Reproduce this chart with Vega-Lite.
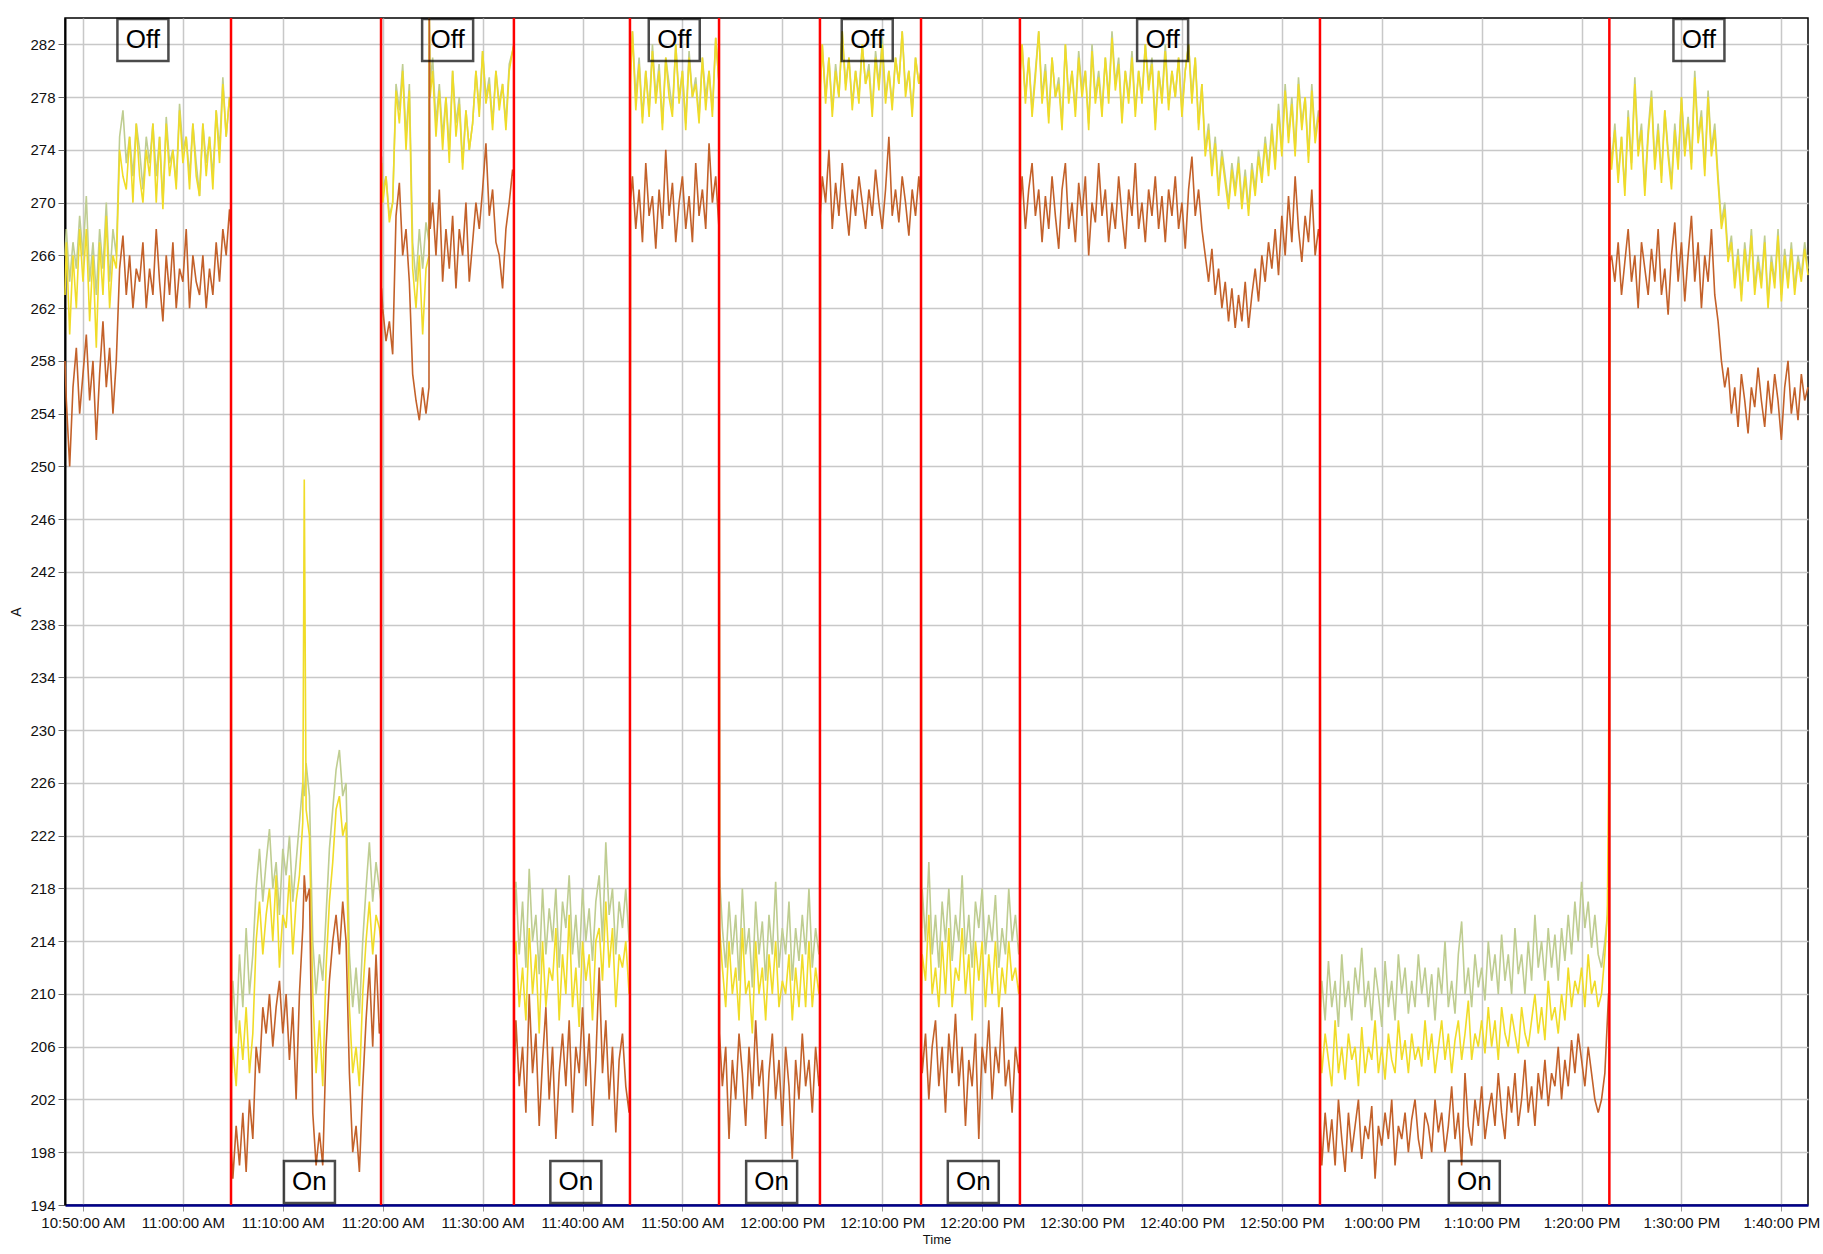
{
"$schema":"https://vega.github.io/schema/vega-lite/v6.json",
"width":1743,"height":1187,
"autosize":{"type":"none"},
"padding":{"left":65,"top":18,"right":15,"bottom":49},
"config":{"font":"Liberation Sans","view":{"stroke":"#000","strokeWidth":1.5}},
"datasets":{
"s":[
{"t":"2000-01-01T10:48:12","g":266,"y":263,"o":258},{"t":"2000-01-01T10:48:20","g":268,"y":267,"o":255},{"t":"2000-01-01T10:48:40","g":264,"y":260,"o":250},{"t":"2000-01-01T10:49:00","g":267,"y":266,"o":256},{"t":"2000-01-01T10:49:20","g":265,"y":262,"o":259},{"t":"2000-01-01T10:49:40","g":269,"y":268,"o":254},{"t":"2000-01-01T10:50:00","g":266,"y":264,"o":257},{"t":"2000-01-01T10:50:20","g":270.5,"y":268,"o":260},{"t":"2000-01-01T10:50:40","g":264,"y":261,"o":255},{"t":"2000-01-01T10:51:00","g":267,"y":266,"o":258},{"t":"2000-01-01T10:51:20","g":263,"y":259,"o":252},{"t":"2000-01-01T10:51:40","g":268,"y":267,"o":257},{"t":"2000-01-01T10:52:00","g":265,"y":263,"o":261},{"t":"2000-01-01T10:52:20","g":270,"y":269,"o":256},{"t":"2000-01-01T10:52:40","g":264,"y":262,"o":259},{"t":"2000-01-01T10:53:00","g":268,"y":266,"o":254},{"t":"2000-01-01T10:53:20","g":266,"y":265,"o":258},
{"t":"2000-01-01T10:53:40","g":275,"y":274,"o":265},{"t":"2000-01-01T10:54:00","g":277,"y":272,"o":267.5},{"t":"2000-01-01T10:54:20","g":273,"y":271,"o":263},{"t":"2000-01-01T10:54:40","g":275,"y":275,"o":266},{"t":"2000-01-01T10:55:00","g":272,"y":270,"o":262},{"t":"2000-01-01T10:55:20","g":276,"y":276,"o":265},{"t":"2000-01-01T10:55:40","g":274,"y":272,"o":264},{"t":"2000-01-01T10:56:00","g":271,"y":270,"o":267},{"t":"2000-01-01T10:56:20","g":275,"y":274,"o":262},{"t":"2000-01-01T10:56:40","g":273,"y":272,"o":265},{"t":"2000-01-01T10:57:00","g":276,"y":276,"o":263},{"t":"2000-01-01T10:57:20","g":272,"y":270,"o":268},{"t":"2000-01-01T10:57:40","g":275,"y":275,"o":264},{"t":"2000-01-01T10:58:00","g":270,"y":269.5,"o":261},{"t":"2000-01-01T10:58:20","g":276.5,"y":276,"o":266},{"t":"2000-01-01T10:58:40","g":273,"y":272,"o":263},{"t":"2000-01-01T10:59:00","g":274,"y":274,"o":267},{"t":"2000-01-01T10:59:20","g":271.5,"y":271,"o":262},{"t":"2000-01-01T10:59:40","g":277.5,"y":277,"o":265},{"t":"2000-01-01T11:00:00","g":274,"y":273,"o":264},{"t":"2000-01-01T11:00:20","g":275,"y":275,"o":268},{"t":"2000-01-01T11:00:40","g":272,"y":271,"o":262},{"t":"2000-01-01T11:01:00","g":276,"y":276,"o":266},{"t":"2000-01-01T11:01:20","g":273,"y":272,"o":264},{"t":"2000-01-01T11:01:40","g":270.5,"y":270.5,"o":263},{"t":"2000-01-01T11:02:00","g":276,"y":276,"o":266},{"t":"2000-01-01T11:02:20","g":273,"y":272,"o":262},{"t":"2000-01-01T11:02:40","g":275,"y":275,"o":265},{"t":"2000-01-01T11:03:00","g":272,"y":271,"o":263},{"t":"2000-01-01T11:03:20","g":277,"y":277,"o":267},{"t":"2000-01-01T11:03:40","g":274,"y":273,"o":264},{"t":"2000-01-01T11:04:00","g":279.5,"y":279,"o":268},{"t":"2000-01-01T11:04:20","g":275,"y":275,"o":266},{"t":"2000-01-01T11:04:40","g":278,"y":278,"o":269.5},{"t":"2000-01-01T11:04:49","g":277,"y":277,"o":268},
{"t":"2000-01-01T11:04:52","g":208,"y":204,"o":198},{"t":"2000-01-01T11:05:00","g":211,"y":206,"o":196},{"t":"2000-01-01T11:05:20","g":207,"y":203,"o":200},{"t":"2000-01-01T11:05:40","g":213,"y":208,"o":197},{"t":"2000-01-01T11:06:00","g":209,"y":205,"o":201},{"t":"2000-01-01T11:06:20","g":215,"y":209,"o":196.5},{"t":"2000-01-01T11:06:40","g":210,"y":204,"o":202},{"t":"2000-01-01T11:07:00","g":213,"y":207,"o":199},{"t":"2000-01-01T11:07:20","g":218,"y":214,"o":206},{"t":"2000-01-01T11:07:40","g":221,"y":217,"o":204},{"t":"2000-01-01T11:08:00","g":217,"y":213,"o":209},{"t":"2000-01-01T11:08:20","g":220,"y":216,"o":207},{"t":"2000-01-01T11:08:40","g":222.5,"y":218,"o":210},{"t":"2000-01-01T11:09:00","g":218,"y":214,"o":206},{"t":"2000-01-01T11:09:20","g":220,"y":219,"o":209},{"t":"2000-01-01T11:09:40","g":216,"y":212,"o":211},{"t":"2000-01-01T11:10:00","g":221,"y":216,"o":207},{"t":"2000-01-01T11:10:20","g":219,"y":215,"o":210},{"t":"2000-01-01T11:10:40","g":222,"y":219,"o":205},{"t":"2000-01-01T11:11:00","g":217,"y":213,"o":209},{"t":"2000-01-01T11:11:20","g":220,"y":217,"o":202},{"t":"2000-01-01T11:11:40","g":223,"y":219,"o":210},{"t":"2000-01-01T11:12:00","g":226,"y":223,"o":215},{"t":"2000-01-01T11:12:09","g":225,"y":249,"o":219},{"t":"2000-01-01T11:12:20","g":227.5,"y":224,"o":217},{"t":"2000-01-01T11:12:40","g":225,"y":222,"o":218},{"t":"2000-01-01T11:13:00","g":214,"y":210,"o":201},{"t":"2000-01-01T11:13:20","g":210,"y":204,"o":197},{"t":"2000-01-01T11:13:40","g":213,"y":208,"o":199.5},{"t":"2000-01-01T11:14:00","g":211,"y":203,"o":197},{"t":"2000-01-01T11:14:20","g":216,"y":212,"o":206},{"t":"2000-01-01T11:14:40","g":221,"y":217,"o":211},{"t":"2000-01-01T11:15:00","g":224,"y":220,"o":214},{"t":"2000-01-01T11:15:20","g":227,"y":224,"o":216},{"t":"2000-01-01T11:15:40","g":228.5,"y":225,"o":213},{"t":"2000-01-01T11:16:00","g":225,"y":222,"o":217},{"t":"2000-01-01T11:16:20","g":226,"y":223,"o":214},{"t":"2000-01-01T11:16:40","g":213,"y":209,"o":204},{"t":"2000-01-01T11:17:00","g":209,"y":204,"o":198},{"t":"2000-01-01T11:17:20","g":212,"y":206,"o":200},{"t":"2000-01-01T11:17:40","g":208.5,"y":203,"o":196.5},{"t":"2000-01-01T11:18:00","g":214,"y":210,"o":203},{"t":"2000-01-01T11:18:20","g":218,"y":214,"o":208},{"t":"2000-01-01T11:18:40","g":221.5,"y":217,"o":212},{"t":"2000-01-01T11:19:00","g":217,"y":213,"o":206},{"t":"2000-01-01T11:19:20","g":220,"y":216,"o":213},{"t":"2000-01-01T11:19:40","g":218,"y":215,"o":207},{"t":"2000-01-01T11:19:50","g":217,"y":214,"o":208},
{"t":"2000-01-01T11:19:53","g":273.5,"y":273,"o":263.5},{"t":"2000-01-01T11:20:00","g":271,"y":270,"o":262},{"t":"2000-01-01T11:20:20","g":272,"y":272,"o":259.5},{"t":"2000-01-01T11:20:40","g":269,"y":268.5,"o":261},{"t":"2000-01-01T11:21:00","g":270,"y":270,"o":258.5},{"t":"2000-01-01T11:21:20","g":279,"y":278.5,"o":269},{"t":"2000-01-01T11:21:40","g":277,"y":276,"o":271.5},{"t":"2000-01-01T11:22:00","g":280.5,"y":280,"o":266},{"t":"2000-01-01T11:22:20","g":275,"y":274,"o":268},{"t":"2000-01-01T11:22:40","g":279,"y":278.5,"o":264},{"t":"2000-01-01T11:23:00","g":267,"y":265,"o":257},{"t":"2000-01-01T11:23:20","g":264,"y":262,"o":255},{"t":"2000-01-01T11:23:40","g":268,"y":266,"o":253.5},{"t":"2000-01-01T11:24:00","g":265,"y":260,"o":256},{"t":"2000-01-01T11:24:20","g":268.5,"y":265,"o":254},{"t":"2000-01-01T11:24:38","g":267,"y":266,"o":256},{"t":"2000-01-01T11:24:40","g":284,"y":284,"o":284},{"t":"2000-01-01T11:24:45","g":279,"y":278,"o":268},{"t":"2000-01-01T11:25:00","g":281,"y":280,"o":270},{"t":"2000-01-01T11:25:20","g":276,"y":275,"o":266},{"t":"2000-01-01T11:25:40","g":279,"y":278.5,"o":271},{"t":"2000-01-01T11:26:00","g":275,"y":274,"o":264},{"t":"2000-01-01T11:26:20","g":278,"y":278,"o":268},{"t":"2000-01-01T11:26:40","g":274,"y":273,"o":265},{"t":"2000-01-01T11:27:00","g":280,"y":280,"o":269},{"t":"2000-01-01T11:27:20","g":276,"y":275,"o":263.5},{"t":"2000-01-01T11:27:40","g":278,"y":277.5,"o":268},{"t":"2000-01-01T11:28:00","g":273,"y":272.5,"o":266},{"t":"2000-01-01T11:28:20","g":277,"y":277,"o":270},{"t":"2000-01-01T11:28:40","g":274,"y":274,"o":264},{"t":"2000-01-01T11:29:00","g":276,"y":276,"o":267},{"t":"2000-01-01T11:29:20","g":280,"y":280,"o":270},{"t":"2000-01-01T11:29:40","g":277,"y":276.5,"o":268},{"t":"2000-01-01T11:30:00","g":281.5,"y":281.5,"o":271},{"t":"2000-01-01T11:30:20","g":278,"y":277.5,"o":274.5},{"t":"2000-01-01T11:30:40","g":279.5,"y":279,"o":269},{"t":"2000-01-01T11:31:00","g":276,"y":275.5,"o":271},{"t":"2000-01-01T11:31:20","g":280,"y":280,"o":267},{"t":"2000-01-01T11:31:40","g":277.5,"y":277,"o":266},{"t":"2000-01-01T11:32:00","g":279,"y":279,"o":263.5},{"t":"2000-01-01T11:32:20","g":276,"y":275.5,"o":268},{"t":"2000-01-01T11:32:40","g":280.5,"y":280,"o":270},{"t":"2000-01-01T11:33:00","g":281.5,"y":281.5,"o":272.5},{"t":"2000-01-01T11:33:08","g":282,"y":282,"o":272},
{"t":"2000-01-01T11:33:11","g":216,"y":213,"o":204},{"t":"2000-01-01T11:33:20","g":218.5,"y":214,"o":208},{"t":"2000-01-01T11:33:40","g":213,"y":209,"o":203},{"t":"2000-01-01T11:34:00","g":217,"y":212,"o":206},{"t":"2000-01-01T11:34:20","g":212,"y":208,"o":201},{"t":"2000-01-01T11:34:40","g":219.5,"y":215,"o":210},{"t":"2000-01-01T11:35:00","g":214,"y":210,"o":204},{"t":"2000-01-01T11:35:20","g":216,"y":213,"o":207},{"t":"2000-01-01T11:35:40","g":211.5,"y":207,"o":200},{"t":"2000-01-01T11:36:00","g":218,"y":214,"o":205},{"t":"2000-01-01T11:36:20","g":213,"y":209,"o":209},{"t":"2000-01-01T11:36:40","g":216.5,"y":212,"o":202},{"t":"2000-01-01T11:37:00","g":214,"y":211,"o":206},{"t":"2000-01-01T11:37:20","g":218,"y":215,"o":199},{"t":"2000-01-01T11:37:40","g":212,"y":208,"o":204},{"t":"2000-01-01T11:38:00","g":217,"y":213,"o":207},{"t":"2000-01-01T11:38:20","g":215,"y":210,"o":203},{"t":"2000-01-01T11:38:40","g":219,"y":216,"o":208},{"t":"2000-01-01T11:39:00","g":213,"y":209,"o":201},{"t":"2000-01-01T11:39:20","g":216,"y":212,"o":206},{"t":"2000-01-01T11:39:40","g":212,"y":207.5,"o":204},{"t":"2000-01-01T11:40:00","g":218,"y":214,"o":209},{"t":"2000-01-01T11:40:20","g":214,"y":211,"o":203},{"t":"2000-01-01T11:40:40","g":216.5,"y":213,"o":207},{"t":"2000-01-01T11:41:00","g":212.5,"y":208,"o":200},{"t":"2000-01-01T11:41:20","g":217,"y":214,"o":205},{"t":"2000-01-01T11:41:40","g":219,"y":215,"o":212},{"t":"2000-01-01T11:42:00","g":214,"y":211,"o":204},{"t":"2000-01-01T11:42:20","g":221.5,"y":217,"o":208},{"t":"2000-01-01T11:42:40","g":216,"y":212,"o":202},{"t":"2000-01-01T11:43:00","g":218,"y":215,"o":206},{"t":"2000-01-01T11:43:20","g":213,"y":209,"o":199.5},{"t":"2000-01-01T11:43:40","g":217,"y":213,"o":205},{"t":"2000-01-01T11:44:00","g":215,"y":212,"o":207},{"t":"2000-01-01T11:44:20","g":218,"y":214,"o":203},{"t":"2000-01-01T11:44:40","g":214,"y":210,"o":201},{"t":"2000-01-01T11:44:45","g":215,"y":211,"o":204},
{"t":"2000-01-01T11:44:48","g":280,"y":279,"o":270},{"t":"2000-01-01T11:45:00","g":283,"y":283,"o":272},{"t":"2000-01-01T11:45:20","g":278,"y":277,"o":268},{"t":"2000-01-01T11:45:40","g":281,"y":280.5,"o":271},{"t":"2000-01-01T11:46:00","g":276.5,"y":276,"o":267},{"t":"2000-01-01T11:46:20","g":280,"y":280,"o":273},{"t":"2000-01-01T11:46:40","g":277,"y":276.5,"o":269},{"t":"2000-01-01T11:47:00","g":282,"y":281.5,"o":270.5},{"t":"2000-01-01T11:47:20","g":278,"y":277.5,"o":266.5},{"t":"2000-01-01T11:47:40","g":280.5,"y":280,"o":271},{"t":"2000-01-01T11:48:00","g":276,"y":275.5,"o":268},{"t":"2000-01-01T11:48:20","g":281,"y":281,"o":274},{"t":"2000-01-01T11:48:40","g":279,"y":278,"o":269},{"t":"2000-01-01T11:49:00","g":277,"y":276.5,"o":271.5},{"t":"2000-01-01T11:49:20","g":282,"y":282,"o":267},{"t":"2000-01-01T11:49:40","g":278,"y":277.5,"o":270},{"t":"2000-01-01T11:50:00","g":280,"y":280,"o":272},{"t":"2000-01-01T11:50:20","g":276,"y":275.5,"o":268},{"t":"2000-01-01T11:50:40","g":281.5,"y":281,"o":270.5},{"t":"2000-01-01T11:51:00","g":278,"y":278,"o":267},{"t":"2000-01-01T11:51:20","g":279.5,"y":279,"o":273},{"t":"2000-01-01T11:51:40","g":276.5,"y":276,"o":269},{"t":"2000-01-01T11:52:00","g":281,"y":281,"o":271},{"t":"2000-01-01T11:52:20","g":278,"y":277,"o":268},{"t":"2000-01-01T11:52:40","g":280,"y":280,"o":274.5},{"t":"2000-01-01T11:53:00","g":277,"y":276.5,"o":270},{"t":"2000-01-01T11:53:20","g":282.5,"y":282.5,"o":272},{"t":"2000-01-01T11:53:40","g":279,"y":279,"o":268},
{"t":"2000-01-01T11:53:43","g":219,"y":215,"o":207},{"t":"2000-01-01T11:54:00","g":215,"y":212,"o":203},{"t":"2000-01-01T11:54:20","g":212,"y":209,"o":206},{"t":"2000-01-01T11:54:40","g":217,"y":214,"o":199},{"t":"2000-01-01T11:55:00","g":213,"y":210,"o":205},{"t":"2000-01-01T11:55:20","g":216,"y":212,"o":202},{"t":"2000-01-01T11:55:40","g":211,"y":208,"o":207},{"t":"2000-01-01T11:56:00","g":218,"y":215,"o":204},{"t":"2000-01-01T11:56:20","g":213,"y":210,"o":200},{"t":"2000-01-01T11:56:40","g":215,"y":211,"o":206},{"t":"2000-01-01T11:57:00","g":210.5,"y":207,"o":202},{"t":"2000-01-01T11:57:20","g":217,"y":214,"o":208},{"t":"2000-01-01T11:57:40","g":213,"y":210,"o":203},{"t":"2000-01-01T11:58:00","g":215.5,"y":212,"o":205},{"t":"2000-01-01T11:58:20","g":211,"y":208,"o":199},{"t":"2000-01-01T11:58:40","g":216,"y":213,"o":204},{"t":"2000-01-01T11:59:00","g":213,"y":210,"o":207},{"t":"2000-01-01T11:59:20","g":218.5,"y":214,"o":202},{"t":"2000-01-01T11:59:40","g":212,"y":209,"o":205},{"t":"2000-01-01T12:00:00","g":215,"y":211,"o":200},{"t":"2000-01-01T12:00:20","g":213,"y":210,"o":206},{"t":"2000-01-01T12:00:40","g":217,"y":213,"o":203},{"t":"2000-01-01T12:01:00","g":211,"y":208,"o":197.5},{"t":"2000-01-01T12:01:20","g":215,"y":212,"o":205},{"t":"2000-01-01T12:01:40","g":212.5,"y":209,"o":202},{"t":"2000-01-01T12:02:00","g":216,"y":213,"o":207},{"t":"2000-01-01T12:02:20","g":213,"y":209,"o":203},{"t":"2000-01-01T12:02:40","g":218,"y":214,"o":205},{"t":"2000-01-01T12:03:00","g":212,"y":209,"o":201},{"t":"2000-01-01T12:03:20","g":215,"y":212,"o":206},{"t":"2000-01-01T12:03:40","g":213,"y":210,"o":203},{"t":"2000-01-01T12:03:46","g":214,"y":211,"o":204},
{"t":"2000-01-01T12:03:49","g":279,"y":278.5,"o":269},{"t":"2000-01-01T12:04:00","g":282,"y":282,"o":272},{"t":"2000-01-01T12:04:20","g":278,"y":277.5,"o":270},{"t":"2000-01-01T12:04:40","g":281,"y":281,"o":274},{"t":"2000-01-01T12:05:00","g":277,"y":276.5,"o":268},{"t":"2000-01-01T12:05:20","g":280.5,"y":280,"o":271.5},{"t":"2000-01-01T12:05:40","g":278,"y":278,"o":269},{"t":"2000-01-01T12:06:00","g":283,"y":283,"o":273},{"t":"2000-01-01T12:06:20","g":279,"y":278.5,"o":270},{"t":"2000-01-01T12:06:40","g":281,"y":281,"o":267.5},{"t":"2000-01-01T12:07:00","g":277.5,"y":277,"o":271},{"t":"2000-01-01T12:07:20","g":280,"y":280,"o":269},{"t":"2000-01-01T12:07:40","g":278,"y":277.5,"o":272},{"t":"2000-01-01T12:08:00","g":282,"y":282,"o":270},{"t":"2000-01-01T12:08:20","g":279,"y":279,"o":268},{"t":"2000-01-01T12:08:40","g":280.5,"y":280,"o":271},{"t":"2000-01-01T12:09:00","g":277,"y":276.5,"o":269},{"t":"2000-01-01T12:09:20","g":281.5,"y":281,"o":272.5},{"t":"2000-01-01T12:09:40","g":279,"y":278.5,"o":270},{"t":"2000-01-01T12:10:00","g":282.5,"y":282,"o":268},{"t":"2000-01-01T12:10:20","g":278,"y":277.5,"o":271},{"t":"2000-01-01T12:10:40","g":280,"y":280,"o":275},{"t":"2000-01-01T12:11:00","g":277.5,"y":277,"o":269},{"t":"2000-01-01T12:11:20","g":281,"y":281,"o":271},{"t":"2000-01-01T12:11:40","g":279,"y":279,"o":268.5},{"t":"2000-01-01T12:12:00","g":283,"y":283,"o":272},{"t":"2000-01-01T12:12:20","g":278.5,"y":278,"o":270},{"t":"2000-01-01T12:12:40","g":280,"y":280,"o":267.5},{"t":"2000-01-01T12:13:00","g":277,"y":276.5,"o":271},{"t":"2000-01-01T12:13:20","g":281,"y":281,"o":269},{"t":"2000-01-01T12:13:40","g":279,"y":279,"o":272},{"t":"2000-01-01T12:13:53","g":280,"y":280,"o":270},
{"t":"2000-01-01T12:13:56","g":215,"y":210,"o":206},{"t":"2000-01-01T12:14:00","g":218,"y":213,"o":204},{"t":"2000-01-01T12:14:20","g":214,"y":211,"o":207},{"t":"2000-01-01T12:14:40","g":220,"y":216,"o":202},{"t":"2000-01-01T12:15:00","g":213,"y":210,"o":206},{"t":"2000-01-01T12:15:20","g":216,"y":212,"o":208},{"t":"2000-01-01T12:15:40","g":212,"y":209,"o":203},{"t":"2000-01-01T12:16:00","g":217,"y":214,"o":206},{"t":"2000-01-01T12:16:20","g":214,"y":210,"o":201},{"t":"2000-01-01T12:16:40","g":218,"y":215,"o":207},{"t":"2000-01-01T12:17:00","g":212.5,"y":209,"o":204},{"t":"2000-01-01T12:17:20","g":216,"y":212,"o":208.5},{"t":"2000-01-01T12:17:40","g":214,"y":211,"o":203},{"t":"2000-01-01T12:18:00","g":219,"y":215,"o":206},{"t":"2000-01-01T12:18:20","g":213,"y":210,"o":200},{"t":"2000-01-01T12:18:40","g":216,"y":213,"o":205},{"t":"2000-01-01T12:19:00","g":212,"y":208,"o":203},{"t":"2000-01-01T12:19:20","g":217,"y":214,"o":207},{"t":"2000-01-01T12:19:40","g":215,"y":211,"o":199},{"t":"2000-01-01T12:20:00","g":218,"y":214,"o":206},{"t":"2000-01-01T12:20:20","g":213,"y":209,"o":204},{"t":"2000-01-01T12:20:40","g":216,"y":213,"o":208},{"t":"2000-01-01T12:21:00","g":214,"y":210,"o":202},{"t":"2000-01-01T12:21:20","g":217.5,"y":214,"o":206},{"t":"2000-01-01T12:21:40","g":212,"y":209,"o":204},{"t":"2000-01-01T12:22:00","g":215,"y":212,"o":209},{"t":"2000-01-01T12:22:20","g":213,"y":210,"o":203},{"t":"2000-01-01T12:22:40","g":218,"y":214,"o":205},{"t":"2000-01-01T12:23:00","g":214,"y":211,"o":201},{"t":"2000-01-01T12:23:20","g":216,"y":212,"o":206},{"t":"2000-01-01T12:23:40","g":213,"y":210,"o":204},{"t":"2000-01-01T12:23:47","g":214,"y":211,"o":205},
{"t":"2000-01-01T12:23:50","g":280,"y":280,"o":270},{"t":"2000-01-01T12:24:00","g":282,"y":282,"o":272},{"t":"2000-01-01T12:24:20","g":278,"y":277.5,"o":268},{"t":"2000-01-01T12:24:40","g":281,"y":281,"o":271},{"t":"2000-01-01T12:25:00","g":277,"y":276.5,"o":273},{"t":"2000-01-01T12:25:20","g":280,"y":279.5,"o":269},{"t":"2000-01-01T12:25:40","g":283,"y":283,"o":271},{"t":"2000-01-01T12:26:00","g":278,"y":277.5,"o":267},{"t":"2000-01-01T12:26:20","g":280.5,"y":280,"o":270.5},{"t":"2000-01-01T12:26:40","g":276.5,"y":276,"o":268},{"t":"2000-01-01T12:27:00","g":281,"y":281,"o":272},{"t":"2000-01-01T12:27:20","g":278,"y":278,"o":269},{"t":"2000-01-01T12:27:40","g":279.5,"y":279,"o":266.5},{"t":"2000-01-01T12:28:00","g":276,"y":275.5,"o":271},{"t":"2000-01-01T12:28:20","g":282,"y":282,"o":273},{"t":"2000-01-01T12:28:40","g":278,"y":277.5,"o":268},{"t":"2000-01-01T12:29:00","g":280,"y":280,"o":270},{"t":"2000-01-01T12:29:20","g":277,"y":276.5,"o":267},{"t":"2000-01-01T12:29:40","g":281.5,"y":281,"o":271.5},{"t":"2000-01-01T12:30:00","g":278.5,"y":278,"o":269},{"t":"2000-01-01T12:30:20","g":280,"y":280,"o":272},{"t":"2000-01-01T12:30:40","g":276,"y":275.5,"o":266},{"t":"2000-01-01T12:31:00","g":282,"y":281.5,"o":270},{"t":"2000-01-01T12:31:20","g":278,"y":277.5,"o":268.5},{"t":"2000-01-01T12:31:40","g":280,"y":279.5,"o":273},{"t":"2000-01-01T12:32:00","g":277,"y":276.5,"o":269},{"t":"2000-01-01T12:32:20","g":281,"y":281,"o":271},{"t":"2000-01-01T12:32:40","g":278,"y":277.5,"o":267},{"t":"2000-01-01T12:33:00","g":283,"y":282.5,"o":270},{"t":"2000-01-01T12:33:20","g":279,"y":278.5,"o":268},{"t":"2000-01-01T12:33:40","g":281,"y":280.5,"o":272},{"t":"2000-01-01T12:34:00","g":276.5,"y":276,"o":269},{"t":"2000-01-01T12:34:20","g":280,"y":280,"o":266.5},{"t":"2000-01-01T12:34:40","g":278,"y":277.5,"o":271},{"t":"2000-01-01T12:35:00","g":281.5,"y":281,"o":269},{"t":"2000-01-01T12:35:20","g":277,"y":276.5,"o":273},{"t":"2000-01-01T12:35:40","g":280,"y":280,"o":268},{"t":"2000-01-01T12:36:00","g":278,"y":277.5,"o":270},{"t":"2000-01-01T12:36:20","g":282,"y":282,"o":267},{"t":"2000-01-01T12:36:40","g":279,"y":278.5,"o":271},{"t":"2000-01-01T12:37:00","g":281,"y":280.5,"o":269},{"t":"2000-01-01T12:37:20","g":276,"y":275.5,"o":272},{"t":"2000-01-01T12:37:40","g":280,"y":280,"o":268},{"t":"2000-01-01T12:38:00","g":278,"y":277.5,"o":270.5},{"t":"2000-01-01T12:38:20","g":282,"y":281.5,"o":267},{"t":"2000-01-01T12:38:40","g":277.5,"y":277,"o":271},{"t":"2000-01-01T12:39:00","g":280,"y":280,"o":269},{"t":"2000-01-01T12:39:20","g":278,"y":278,"o":272},{"t":"2000-01-01T12:39:40","g":281,"y":281,"o":268},{"t":"2000-01-01T12:40:00","g":277,"y":276.5,"o":270},{"t":"2000-01-01T12:40:20","g":280,"y":280,"o":266.5},{"t":"2000-01-01T12:40:40","g":282,"y":282,"o":271},{"t":"2000-01-01T12:41:00","g":278,"y":277.5,"o":273.5},{"t":"2000-01-01T12:41:20","g":281,"y":281,"o":269},{"t":"2000-01-01T12:41:40","g":276,"y":275.5,"o":271},{"t":"2000-01-01T12:42:00","g":279,"y":279,"o":268},{"t":"2000-01-01T12:42:20","g":274,"y":273.5,"o":266},{"t":"2000-01-01T12:42:40","g":276,"y":275.5,"o":264},{"t":"2000-01-01T12:43:00","g":272.5,"y":272,"o":266.5},{"t":"2000-01-01T12:43:20","g":275,"y":274.5,"o":263},{"t":"2000-01-01T12:43:40","g":271,"y":270.5,"o":265},{"t":"2000-01-01T12:44:00","g":274,"y":273.5,"o":262},{"t":"2000-01-01T12:44:20","g":272,"y":271.5,"o":264},{"t":"2000-01-01T12:44:40","g":270,"y":269.5,"o":261},{"t":"2000-01-01T12:45:00","g":273,"y":272.5,"o":263.5},{"t":"2000-01-01T12:45:20","g":271,"y":270.5,"o":260.5},{"t":"2000-01-01T12:45:40","g":273.5,"y":273,"o":263},{"t":"2000-01-01T12:46:00","g":270,"y":269.5,"o":261},{"t":"2000-01-01T12:46:20","g":272.5,"y":272,"o":264},{"t":"2000-01-01T12:46:40","g":269.5,"y":269,"o":260.5},{"t":"2000-01-01T12:47:00","g":273,"y":272.5,"o":263},{"t":"2000-01-01T12:47:20","g":271,"y":270.5,"o":265},{"t":"2000-01-01T12:47:40","g":274,"y":273.5,"o":262.5},{"t":"2000-01-01T12:48:00","g":272,"y":271.5,"o":266},{"t":"2000-01-01T12:48:20","g":275,"y":274.5,"o":264},{"t":"2000-01-01T12:48:40","g":272.5,"y":272,"o":267},{"t":"2000-01-01T12:49:00","g":276,"y":275.5,"o":265},{"t":"2000-01-01T12:49:20","g":273,"y":272.5,"o":268},{"t":"2000-01-01T12:49:40","g":277.5,"y":277,"o":264.5},{"t":"2000-01-01T12:50:00","g":274,"y":273.5,"o":269},{"t":"2000-01-01T12:50:20","g":279,"y":278.5,"o":266},{"t":"2000-01-01T12:50:40","g":275,"y":274.5,"o":270.5},{"t":"2000-01-01T12:51:00","g":278,"y":277.5,"o":267},{"t":"2000-01-01T12:51:20","g":274,"y":273.5,"o":272},{"t":"2000-01-01T12:51:40","g":279.5,"y":279,"o":268},{"t":"2000-01-01T12:52:00","g":276,"y":275.5,"o":265.5},{"t":"2000-01-01T12:52:20","g":278,"y":278,"o":269},{"t":"2000-01-01T12:52:40","g":273.5,"y":273,"o":267},{"t":"2000-01-01T12:53:00","g":279,"y":278.5,"o":271},{"t":"2000-01-01T12:53:20","g":275,"y":274.5,"o":266},{"t":"2000-01-01T12:53:40","g":277,"y":276.5,"o":268},{"t":"2000-01-01T12:53:49","g":276,"y":276,"o":267},
{"t":"2000-01-01T12:53:52","g":209,"y":206,"o":200},{"t":"2000-01-01T12:54:00","g":211,"y":204,"o":197},{"t":"2000-01-01T12:54:20","g":208,"y":207,"o":201},{"t":"2000-01-01T12:54:40","g":212.5,"y":205,"o":198},{"t":"2000-01-01T12:55:00","g":209,"y":203,"o":200.5},{"t":"2000-01-01T12:55:20","g":211,"y":208,"o":197},{"t":"2000-01-01T12:55:40","g":207.5,"y":204,"o":202},{"t":"2000-01-01T12:56:00","g":213,"y":206,"o":199},{"t":"2000-01-01T12:56:20","g":209,"y":203.5,"o":196.5},{"t":"2000-01-01T12:56:40","g":211,"y":207,"o":201},{"t":"2000-01-01T12:57:00","g":208,"y":205,"o":198},{"t":"2000-01-01T12:57:20","g":212,"y":206,"o":200},{"t":"2000-01-01T12:57:40","g":210,"y":203,"o":202},{"t":"2000-01-01T12:58:00","g":213.5,"y":207.5,"o":197.5},{"t":"2000-01-01T12:58:20","g":209,"y":204,"o":200},{"t":"2000-01-01T12:58:40","g":211,"y":206,"o":199},{"t":"2000-01-01T12:59:00","g":208,"y":205,"o":201.5},{"t":"2000-01-01T12:59:20","g":212,"y":208,"o":196},{"t":"2000-01-01T12:59:40","g":210,"y":204,"o":200},{"t":"2000-01-01T13:00:00","g":207.5,"y":206,"o":198.5},{"t":"2000-01-01T13:00:20","g":212.5,"y":203.5,"o":201},{"t":"2000-01-01T13:00:40","g":209,"y":207,"o":199},{"t":"2000-01-01T13:01:00","g":211,"y":205,"o":202},{"t":"2000-01-01T13:01:20","g":208,"y":204,"o":197},{"t":"2000-01-01T13:01:40","g":213,"y":208,"o":200},{"t":"2000-01-01T13:02:00","g":210,"y":205,"o":199},{"t":"2000-01-01T13:02:20","g":212,"y":206.5,"o":201},{"t":"2000-01-01T13:02:40","g":208.5,"y":204,"o":198},{"t":"2000-01-01T13:03:00","g":211,"y":207,"o":200.5},{"t":"2000-01-01T13:03:20","g":209,"y":205,"o":202},{"t":"2000-01-01T13:03:40","g":213,"y":206,"o":199},{"t":"2000-01-01T13:04:00","g":210,"y":204.5,"o":197.5},{"t":"2000-01-01T13:04:20","g":212,"y":208,"o":201},{"t":"2000-01-01T13:04:40","g":209,"y":205,"o":200},{"t":"2000-01-01T13:05:00","g":211.5,"y":207,"o":198},{"t":"2000-01-01T13:05:20","g":208,"y":204,"o":202},{"t":"2000-01-01T13:05:40","g":212,"y":206,"o":199.5},{"t":"2000-01-01T13:06:00","g":210,"y":208,"o":201},{"t":"2000-01-01T13:06:20","g":214,"y":205,"o":198},{"t":"2000-01-01T13:06:40","g":209,"y":207,"o":200},{"t":"2000-01-01T13:07:00","g":211,"y":204,"o":203},{"t":"2000-01-01T13:07:20","g":208.5,"y":206.5,"o":199},{"t":"2000-01-01T13:07:40","g":213,"y":208,"o":201},{"t":"2000-01-01T13:08:00","g":215.5,"y":205,"o":197},{"t":"2000-01-01T13:08:20","g":210,"y":207,"o":204},{"t":"2000-01-01T13:08:40","g":212,"y":209.5,"o":200},{"t":"2000-01-01T13:09:00","g":209,"y":205,"o":198.5},{"t":"2000-01-01T13:09:20","g":213,"y":207,"o":202},{"t":"2000-01-01T13:09:40","g":210.5,"y":206,"o":200},{"t":"2000-01-01T13:10:00","g":212,"y":208,"o":203},{"t":"2000-01-01T13:10:20","g":209.5,"y":205.5,"o":199},{"t":"2000-01-01T13:10:40","g":214,"y":209,"o":201},{"t":"2000-01-01T13:11:00","g":211,"y":206,"o":202.5},{"t":"2000-01-01T13:11:20","g":213,"y":208,"o":200},{"t":"2000-01-01T13:11:40","g":210,"y":205,"o":204},{"t":"2000-01-01T13:12:00","g":214.5,"y":209,"o":201},{"t":"2000-01-01T13:12:20","g":211,"y":207,"o":199},{"t":"2000-01-01T13:12:40","g":213,"y":206,"o":203},{"t":"2000-01-01T13:13:00","g":210,"y":208.5,"o":201},{"t":"2000-01-01T13:13:20","g":215,"y":207,"o":204},{"t":"2000-01-01T13:13:40","g":211.5,"y":205.5,"o":200},{"t":"2000-01-01T13:14:00","g":213,"y":209,"o":202},{"t":"2000-01-01T13:14:20","g":210,"y":207,"o":205},{"t":"2000-01-01T13:14:40","g":214,"y":206,"o":201},{"t":"2000-01-01T13:15:00","g":211,"y":208,"o":203},{"t":"2000-01-01T13:15:20","g":216,"y":210,"o":200},{"t":"2000-01-01T13:15:40","g":212,"y":207,"o":204},{"t":"2000-01-01T13:16:00","g":214,"y":209,"o":202},{"t":"2000-01-01T13:16:20","g":211,"y":206.5,"o":205},{"t":"2000-01-01T13:16:40","g":215,"y":211,"o":201.5},{"t":"2000-01-01T13:17:00","g":212,"y":208,"o":204},{"t":"2000-01-01T13:17:20","g":214.5,"y":209,"o":203},{"t":"2000-01-01T13:17:40","g":211,"y":207,"o":206},{"t":"2000-01-01T13:18:00","g":215,"y":210,"o":202},{"t":"2000-01-01T13:18:20","g":212.5,"y":208,"o":205},{"t":"2000-01-01T13:18:40","g":216,"y":212,"o":203},{"t":"2000-01-01T13:19:00","g":213,"y":209,"o":206.5},{"t":"2000-01-01T13:19:20","g":217,"y":211,"o":204},{"t":"2000-01-01T13:19:40","g":214,"y":210,"o":207},{"t":"2000-01-01T13:20:00","g":218.5,"y":212,"o":205},{"t":"2000-01-01T13:20:20","g":215,"y":209,"o":203},{"t":"2000-01-01T13:20:40","g":217,"y":213,"o":206},{"t":"2000-01-01T13:21:00","g":213.5,"y":210,"o":204},{"t":"2000-01-01T13:21:20","g":216,"y":211,"o":202},{"t":"2000-01-01T13:21:40","g":213,"y":209,"o":201},{"t":"2000-01-01T13:22:00","g":212,"y":210,"o":202},{"t":"2000-01-01T13:22:20","g":214,"y":213,"o":204},{"t":"2000-01-01T13:22:35","g":216,"y":216,"o":208},{"t":"2000-01-01T13:22:42","g":218,"y":226,"o":210},{"t":"2000-01-01T13:22:47","g":218,"y":250,"o":210},
{"t":"2000-01-01T13:22:49","g":275,"y":274.5,"o":265.5},{"t":"2000-01-01T13:23:00","g":273,"y":272.5,"o":266},{"t":"2000-01-01T13:23:20","g":276,"y":275.5,"o":264},{"t":"2000-01-01T13:23:40","g":272,"y":271.5,"o":267},{"t":"2000-01-01T13:24:00","g":275,"y":275,"o":263},{"t":"2000-01-01T13:24:20","g":271,"y":270.5,"o":265.5},{"t":"2000-01-01T13:24:40","g":277,"y":276.5,"o":268},{"t":"2000-01-01T13:25:00","g":273,"y":272.5,"o":264},{"t":"2000-01-01T13:25:20","g":279.5,"y":279,"o":266},{"t":"2000-01-01T13:25:40","g":274,"y":273.5,"o":262},{"t":"2000-01-01T13:26:00","g":276,"y":275.5,"o":267},{"t":"2000-01-01T13:26:20","g":271,"y":270.5,"o":265},{"t":"2000-01-01T13:26:40","g":275.5,"y":275,"o":263},{"t":"2000-01-01T13:27:00","g":278.5,"y":278,"o":266.5},{"t":"2000-01-01T13:27:20","g":273,"y":272.5,"o":264},{"t":"2000-01-01T13:27:40","g":276,"y":275.5,"o":268},{"t":"2000-01-01T13:28:00","g":272,"y":271.5,"o":263},{"t":"2000-01-01T13:28:20","g":277,"y":277,"o":265},{"t":"2000-01-01T13:28:40","g":274,"y":273.5,"o":261.5},{"t":"2000-01-01T13:29:00","g":271.5,"y":271,"o":266},{"t":"2000-01-01T13:29:20","g":276,"y":275.5,"o":268.5},{"t":"2000-01-01T13:29:40","g":273,"y":272.5,"o":264},{"t":"2000-01-01T13:30:00","g":278,"y":278,"o":267},{"t":"2000-01-01T13:30:20","g":274,"y":273.5,"o":262.5},{"t":"2000-01-01T13:30:40","g":276.5,"y":276,"o":266},{"t":"2000-01-01T13:31:00","g":273,"y":272.5,"o":269},{"t":"2000-01-01T13:31:20","g":280,"y":279.5,"o":264},{"t":"2000-01-01T13:31:40","g":275,"y":274.5,"o":267},{"t":"2000-01-01T13:32:00","g":277,"y":276.5,"o":262},{"t":"2000-01-01T13:32:20","g":272.5,"y":272,"o":266},{"t":"2000-01-01T13:32:40","g":278.5,"y":278,"o":264},{"t":"2000-01-01T13:33:00","g":274,"y":273.5,"o":268},{"t":"2000-01-01T13:33:20","g":276,"y":275.5,"o":263},{"t":"2000-01-01T13:33:40","g":272,"y":271.5,"o":261},{"t":"2000-01-01T13:34:00","g":268.5,"y":268,"o":258},{"t":"2000-01-01T13:34:20","g":270,"y":269.5,"o":256},{"t":"2000-01-01T13:34:40","g":266,"y":265.5,"o":257.5},{"t":"2000-01-01T13:35:00","g":267.5,"y":267,"o":254},{"t":"2000-01-01T13:35:20","g":264,"y":263.5,"o":256},{"t":"2000-01-01T13:35:40","g":266.5,"y":266,"o":253},{"t":"2000-01-01T13:36:00","g":263,"y":262.5,"o":257},{"t":"2000-01-01T13:36:20","g":267,"y":266.5,"o":255},{"t":"2000-01-01T13:36:40","g":264.5,"y":264,"o":252.5},{"t":"2000-01-01T13:37:00","g":268,"y":267.5,"o":256},{"t":"2000-01-01T13:37:20","g":263.5,"y":263,"o":254.5},{"t":"2000-01-01T13:37:40","g":266,"y":265.5,"o":257.5},{"t":"2000-01-01T13:38:00","g":264,"y":263.5,"o":255},{"t":"2000-01-01T13:38:20","g":267.5,"y":267,"o":253},{"t":"2000-01-01T13:38:40","g":262.5,"y":262,"o":256.5},{"t":"2000-01-01T13:39:00","g":266,"y":265.5,"o":254},{"t":"2000-01-01T13:39:20","g":264,"y":263.5,"o":257},{"t":"2000-01-01T13:39:40","g":268,"y":267.5,"o":255},{"t":"2000-01-01T13:40:00","g":263,"y":262.5,"o":252},{"t":"2000-01-01T13:40:20","g":266.5,"y":266,"o":256},{"t":"2000-01-01T13:40:40","g":264,"y":263.5,"o":258},{"t":"2000-01-01T13:41:00","g":267,"y":266.5,"o":254},{"t":"2000-01-01T13:41:20","g":263.5,"y":263,"o":256},{"t":"2000-01-01T13:41:40","g":266,"y":265.5,"o":253.5},{"t":"2000-01-01T13:42:00","g":264.5,"y":264,"o":257},{"t":"2000-01-01T13:42:20","g":267,"y":266.5,"o":255},{"t":"2000-01-01T13:42:40","g":265,"y":264.5,"o":256}
],
"r":[{"t":"2000-01-01T11:04:49"},{"t":"2000-01-01T11:19:50"},{"t":"2000-01-01T11:33:08"},{"t":"2000-01-01T11:44:45"},{"t":"2000-01-01T11:53:40"},{"t":"2000-01-01T12:03:46"},{"t":"2000-01-01T12:13:53"},{"t":"2000-01-01T12:23:47"},{"t":"2000-01-01T12:53:49"},{"t":"2000-01-01T13:22:47"}],
"l":[{"t":"2000-01-01T10:56:00","v":282.33,"s":"Off"},{"t":"2000-01-01T11:26:30","v":282.33,"s":"Off"},{"t":"2000-01-01T11:49:11","v":282.33,"s":"Off"},{"t":"2000-01-01T12:08:30","v":282.33,"s":"Off"},{"t":"2000-01-01T12:38:04","v":282.33,"s":"Off"},{"t":"2000-01-01T13:31:45","v":282.33,"s":"Off"},{"t":"2000-01-01T11:12:40","v":195.74,"s":"On"},{"t":"2000-01-01T11:39:20","v":195.74,"s":"On"},{"t":"2000-01-01T11:58:56","v":195.74,"s":"On"},{"t":"2000-01-01T12:19:07","v":195.74,"s":"On"},{"t":"2000-01-01T13:09:16","v":195.74,"s":"On"}]
},
"layer":[
{"data":{"name":"s"},
"mark":{"type":"line","color":"#bfcd91","strokeWidth":1.6},
"encoding":{
"x":{"field":"t","type":"temporal","scale":{"nice":false},
"axis":{"title":"Time","values":[{"year":2000,"month":1,"date":1,"hours":10,"minutes":50},{"year":2000,"month":1,"date":1,"hours":11,"minutes":0},{"year":2000,"month":1,"date":1,"hours":11,"minutes":10},{"year":2000,"month":1,"date":1,"hours":11,"minutes":20},{"year":2000,"month":1,"date":1,"hours":11,"minutes":30},{"year":2000,"month":1,"date":1,"hours":11,"minutes":40},{"year":2000,"month":1,"date":1,"hours":11,"minutes":50},{"year":2000,"month":1,"date":1,"hours":12,"minutes":0},{"year":2000,"month":1,"date":1,"hours":12,"minutes":10},{"year":2000,"month":1,"date":1,"hours":12,"minutes":20},{"year":2000,"month":1,"date":1,"hours":12,"minutes":30},{"year":2000,"month":1,"date":1,"hours":12,"minutes":40},{"year":2000,"month":1,"date":1,"hours":12,"minutes":50},{"year":2000,"month":1,"date":1,"hours":13,"minutes":0},{"year":2000,"month":1,"date":1,"hours":13,"minutes":10},{"year":2000,"month":1,"date":1,"hours":13,"minutes":20},{"year":2000,"month":1,"date":1,"hours":13,"minutes":30},{"year":2000,"month":1,"date":1,"hours":13,"minutes":40}],"format":"%-I:%M:%S %p","labelFlush":false,"labelOverlap":false,"labelFontSize":15,"labelColor":"#111","tickSize":6,"tickColor":"#999","domainColor":"#00008b","domainWidth":2.5,"gridColor":"#c8c8c8","gridWidth":1.5,"titleFontSize":13,"titleFontWeight":"normal","titleColor":"#111","titlePadding":3,"labelPadding":4}},
"y":{"field":"g","type":"quantitative","scale":{"domain":[194,284],"nice":false,"zero":false},
"axis":{"title":"A","values":[194,196,198,200,202,204,206,208,210,212,214,216,218,220,222,224,226,228,230,232,234,236,238,240,242,244,246,248,250,252,254,256,258,260,262,264,266,268,270,272,274,276,278,280,282,284],"labelFlush":false,"labelOverlap":false,"labelFontSize":15,"labelColor":"#111","tickSize":7,"tickColor":"#666","domainColor":"#000","domainWidth":2,"gridColor":"#c8c8c8","gridWidth":1.5,"titleFontSize":14,"titleFontWeight":"normal","titleColor":"#111","titlePadding":6,"labelPadding":3}}}},
{"data":{"name":"s"},
"mark":{"type":"line","color":"#f0dc28","strokeWidth":1.6},
"encoding":{"x":{"field":"t","type":"temporal"},"y":{"field":"y","type":"quantitative"}}},
{"data":{"name":"s"},
"mark":{"type":"line","color":"#c3612a","strokeWidth":1.6},
"encoding":{"x":{"field":"t","type":"temporal"},"y":{"field":"o","type":"quantitative"}}},
{"data":{"name":"r"},
"mark":{"type":"rule","color":"#ff0000","strokeWidth":2.5},
"encoding":{"x":{"field":"t","type":"temporal"}}},
{"data":{"name":"l"},
"mark":{"type":"point","shape":"M-1,-0.8235L1,-0.8235L1,0.8235L-1,0.8235Z","size":2601,"filled":false,"stroke":"#000","strokeWidth":2.5},
"encoding":{"x":{"field":"t","type":"temporal"},"y":{"field":"v","type":"quantitative"}}},
{"data":{"name":"l"},
"mark":{"type":"text","fontSize":26,"color":"#000","baseline":"middle","align":"center"},
"encoding":{"x":{"field":"t","type":"temporal"},"y":{"field":"v","type":"quantitative"},"text":{"field":"s"}}}
]
}
